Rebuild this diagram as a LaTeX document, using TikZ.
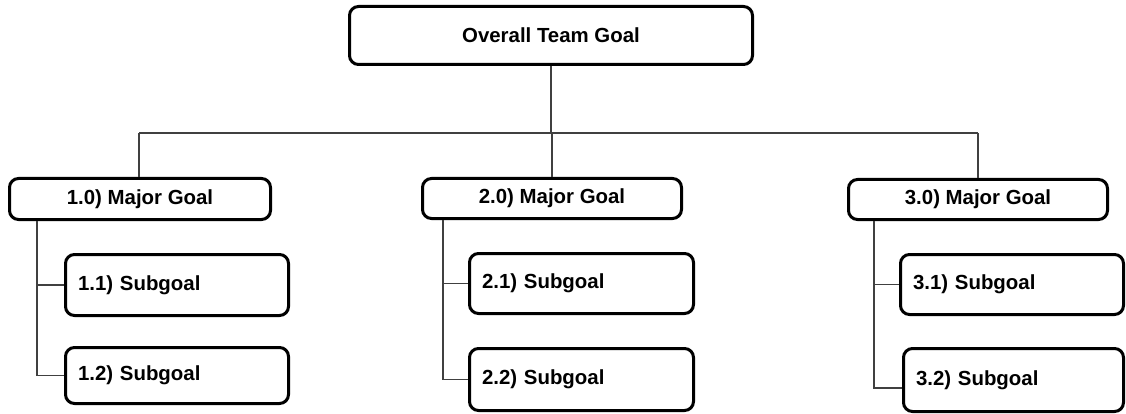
\documentclass[tikz,border=0pt]{standalone}
\usepackage{fontspec}
\setmainfont{Liberation Sans}
\begin{document}
\begin{tikzpicture}[x=1pt,y=-1pt,
  goalbox/.style={draw=black, line width=3pt, rounded corners=9pt, fill=white,
    inner sep=0pt, font=\fontsize{20.4}{24}\selectfont\bfseries, align=center},
  subbox/.style={goalbox, inner xsep=12.5pt, align=left},
  link/.style={draw=black!75, line width=1.2pt}]
\useasboundingbox (0,0) rectangle (1126,414);

% top level
\node[goalbox, minimum width=403pt, minimum height=58pt] (top) at (551,35.5) {Overall Team Goal};

% major goals
\node[goalbox, minimum width=261pt, minimum height=41pt] (m1) at (140,199) {1.0) Major Goal};
\node[goalbox, minimum width=259pt, minimum height=40pt] (m2) at (552,198.5) {2.0) Major Goal};
\node[goalbox, minimum width=259pt, minimum height=40pt] (m3) at (978,199.5) {3.0) Major Goal};

% subgoals
\node[subbox, text width=198pt, minimum height=61pt] (s11) at (177,285) {1.1) Subgoal};
\node[subbox, text width=198pt, minimum height=56pt] (s12) at (177,375.5) {1.2) Subgoal};
\node[subbox, text width=199pt, minimum height=60pt] (s21) at (581.5,283.5) {2.1) Subgoal};
\node[subbox, text width=199pt, minimum height=62pt] (s22) at (581.5,379.5) {2.2) Subgoal};
\node[subbox, text width=198pt, minimum height=60pt] (s31) at (1012,284.5) {3.1) Subgoal};
\node[subbox, text width=195pt, minimum height=63pt] (s32) at (1013.5,380) {3.2) Subgoal};

% bus from the team goal to the major goals
\coordinate (busL) at (139,133);
\coordinate (busR) at (978,133);
\draw[link] (top.south) -- (top.south |- busL);
\draw[link] (busL) -- (busR);
\draw[link] (busL) -- (m1.north -| busL);
\draw[link] (m2.north |- busL) -- (m2.north);
\draw[link] (busR) -- (m3.north);

% brackets from each major goal to its subgoals
\coordinate (k1) at (37,0);
\coordinate (k2) at (443,0);
\coordinate (k3) at (874,0);
\draw[link] (m1.south -| k1) |- (s12.west);
\draw[link] (s11.west -| k1) -- (s11.west);
\draw[link] (m2.south -| k2) |- (s22.west);
\draw[link] (s21.west -| k2) -- (s21.west);
\draw[link] (m3.south -| k3) |- ([yshift=-8pt]s32.west);
\draw[link] (s31.west -| k3) -- (s31.west);
\end{tikzpicture}
\end{document}
